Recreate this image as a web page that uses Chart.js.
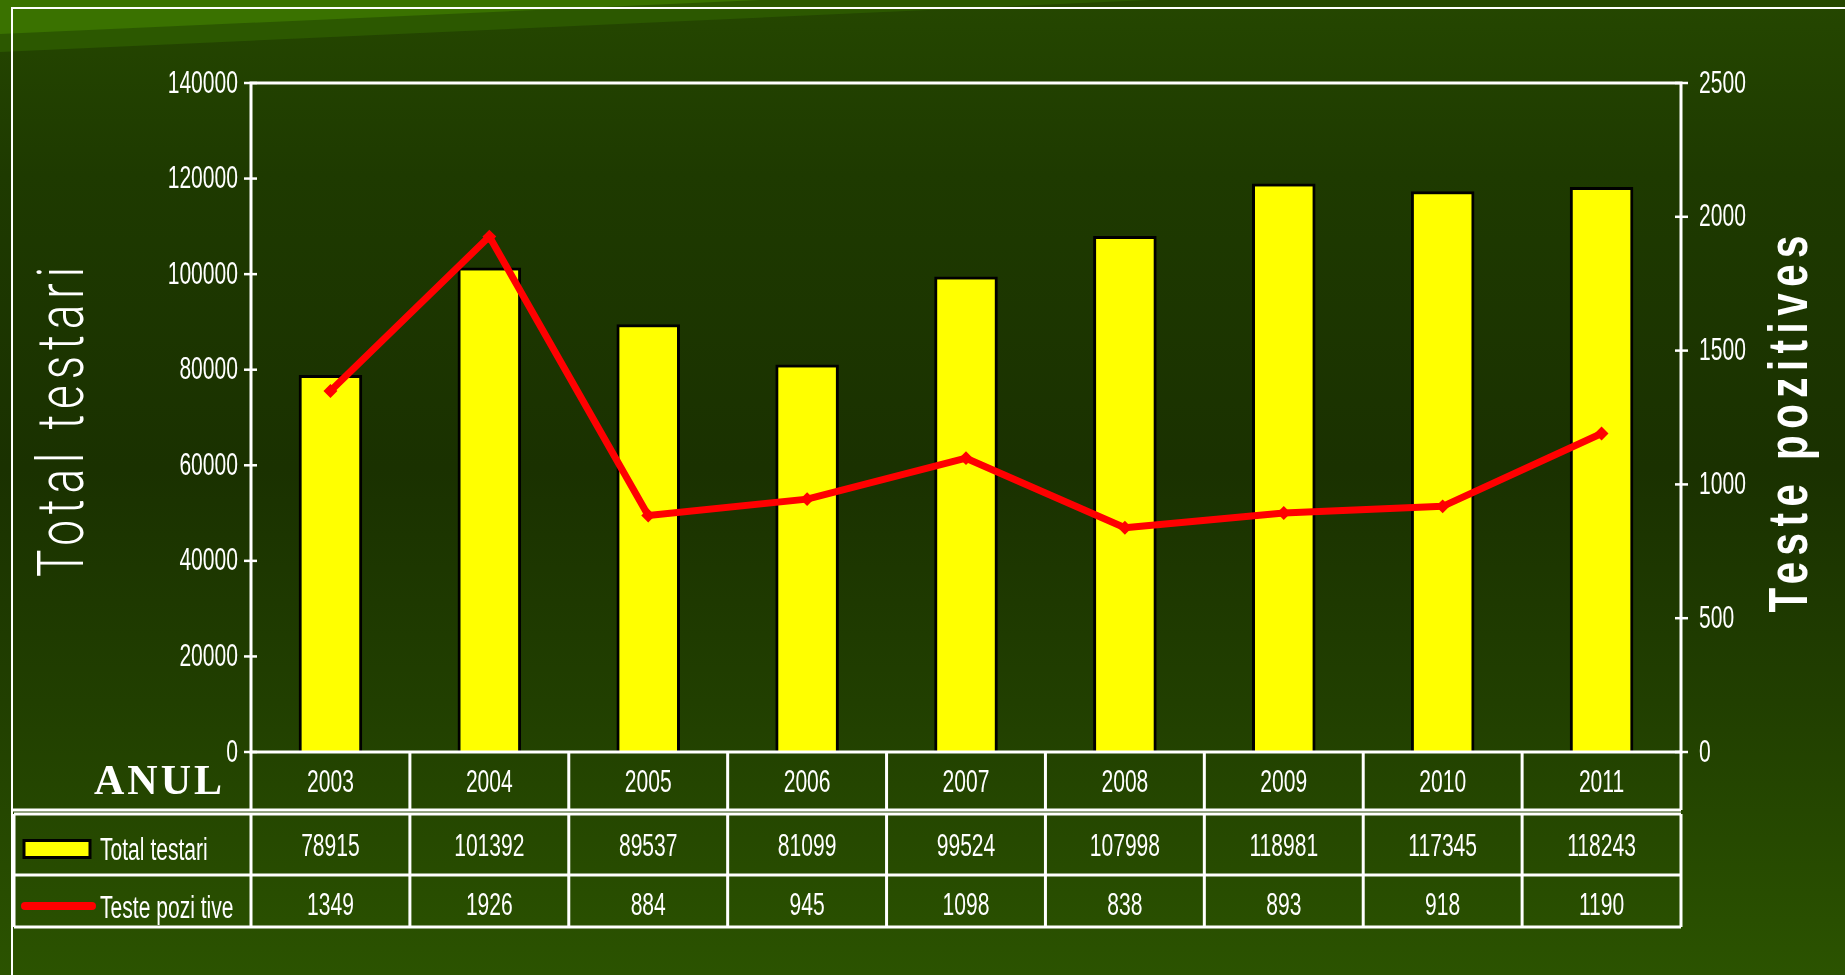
<!DOCTYPE html>
<html>
<head>
<meta charset="utf-8">
<title>Total testari / Teste pozitive</title>
<style>
html, body { margin: 0; padding: 0; width: 1845px; height: 975px; overflow: hidden; }
body {
    position: relative;
    background: linear-gradient(180deg, #254700 0%, #1e3a00 18%, #1a3100 48%, #213f00 72%, #2b5300 100%);
}
.band { position: absolute; left: 0; top: 0; width: 1845px; height: 80px; }
#band1 { background: #2c5800; clip-path: polygon(0 0, 1150px 0, 0 52px); }
#band2 { background: #3a7200; clip-path: polygon(0 0, 760px 0, 0 34px); }
#chart { position: absolute; left: 0; top: 0; }
</style>
<script src="https://cdn.jsdelivr.net/npm/chart.js@4/dist/chart.umd.min.js"></script>
</head>
<body>
<div class="band" id="band1"></div>
<div class="band" id="band2"></div>
<canvas id="chart" width="1845" height="975"></canvas>
<script>
// data
const years = ['2003', '2004', '2005', '2006', '2007', '2008', '2009', '2010', '2011'];
const totalTestari = [78915, 101392, 89537, 81099, 99524, 107998, 118981, 117345, 118243];
const testePozitive = [1349, 1926, 884, 945, 1098, 838, 893, 918, 1190];
const leftMax = 140000, leftStep = 20000;
const rightMax = 2500, rightStep = 500;

const SANS = '"Liberation Sans", Arial, sans-serif';
const NARROW_X = 0.68;   // squeeze so it looks like the narrow office font
const SMALL = '31px ' + SANS;
const WHITE = '#ffffff';

// narrow text: squeeze horizontally around the anchor point
function narrowText(ctx, text, x, y, font, align) {
    ctx.save();
    ctx.font = font;
    ctx.textAlign = align;
    ctx.textBaseline = 'middle';
    ctx.translate(x, y);
    ctx.scale(NARROW_X, 1);
    ctx.fillText(text, 0, 0);
    ctx.restore();
}

// rotated, squeezed and letter spaced title fitted to a given length
function drawTitle(ctx, text, font, squeeze, length, cx, cy) {
    ctx.save();
    ctx.font = font;
    ctx.textAlign = 'center';
    ctx.textBaseline = 'middle';
    ctx.letterSpacing = '0px';
    const w = ctx.measureText(text).width * squeeze;
    const sp = Math.max(0, (length - w) / (text.length - 1)) / squeeze;
    ctx.letterSpacing = sp + 'px';
    ctx.translate(cx, cy);
    ctx.rotate(-Math.PI / 2);
    ctx.scale(squeeze, 1);
    ctx.fillText(text, sp / 2, 0);
    ctx.restore();
}

// draws frame, plot box, ticks, titles and the data table under the chart
const tablePlugin = {
    id: 'dataTable',
    afterDraw(chart) {
        const ctx = chart.ctx;
        const a = chart.chartArea;
        const x = chart.scales.x, y = chart.scales.y, y1 = chart.scales.y1;
        ctx.save();

        // outer white frame
        ctx.strokeStyle = WHITE;
        ctx.lineWidth = 2;
        ctx.beginPath();
        ctx.moveTo(12, 975);
        ctx.lineTo(12, 8);
        ctx.lineTo(1845, 8);
        ctx.stroke();

        // plot box
        ctx.lineWidth = 3;
        ctx.strokeRect(a.left, a.top, a.right - a.left, a.bottom - a.top);

        // tick marks crossing the axes, and their labels
        ctx.lineWidth = 2.5;
        ctx.fillStyle = WHITE;
        y.ticks.forEach(t => {
            const py = y.getPixelForValue(t.value);
            ctx.beginPath(); ctx.moveTo(a.left - 7, py); ctx.lineTo(a.left + 6, py); ctx.stroke();
            narrowText(ctx, String(t.value), a.left - 13, py + 1, SMALL, 'right');
        });
        y1.ticks.forEach(t => {
            const py = y1.getPixelForValue(t.value);
            ctx.beginPath(); ctx.moveTo(a.right - 6, py); ctx.lineTo(a.right + 7, py); ctx.stroke();
            narrowText(ctx, String(t.value), a.right + 18, py + 1, SMALL, 'left');
        });

        // axis titles
        ctx.fillStyle = WHITE;
        drawTitle(ctx, 'Total testari', '300 64px Roboto, ' + SANS, 0.72, 310, 67, 422);
        drawTitle(ctx, 'Teste pozitives', 'bold 56px ' + SANS, 0.72, 377, 1792, 424);

        // table geometry
        const n = years.length;
        const cw = (a.right - a.left) / n;
        const edges = years.map((_, i) => x.getPixelForValue(i) - cw / 2);
        edges.push(x.getPixelForValue(n - 1) + cw / 2);
        const r0 = a.bottom, yb = a.bottom + 58;
        const r1 = a.bottom + 62, r2 = a.bottom + 123, r3 = a.bottom + 175;
        const tLeft = 14;

        ctx.strokeStyle = WHITE;
        ctx.lineWidth = 3;
        edges.forEach(ex => {
            ctx.beginPath(); ctx.moveTo(ex, r0); ctx.lineTo(ex, yb); ctx.stroke();
        });
        ctx.beginPath(); ctx.moveTo(12, yb); ctx.lineTo(a.right, yb); ctx.stroke();
        [r1, r2, r3].forEach(ry => {
            ctx.beginPath(); ctx.moveTo(tLeft, ry); ctx.lineTo(a.right, ry); ctx.stroke();
        });
        [tLeft].concat(edges).forEach(ex => {
            ctx.beginPath(); ctx.moveTo(ex, r1); ctx.lineTo(ex, r3); ctx.stroke();
        });

        // cell texts
        ctx.fillStyle = WHITE;
        const rowYear = (r0 + yb) / 2 + 2, rowTot = (r1 + r2) / 2 + 3, rowPoz = (r2 + r3) / 2 + 5;
        years.forEach((yr, i) => {
            const cx = x.getPixelForValue(i);
            narrowText(ctx, yr, cx, rowYear, SMALL, 'center');
            narrowText(ctx, String(totalTestari[i]), cx, rowTot, SMALL, 'center');
            narrowText(ctx, String(testePozitive[i]), cx, rowPoz, SMALL, 'center');
        });

        // row headers
        ctx.save();
        ctx.textAlign = 'right';
        ctx.textBaseline = 'middle';
        ctx.font = 'bold 42px "Liberation Serif", "DejaVu Serif", serif';
        ctx.letterSpacing = '3px';
        ctx.fillText('ANUL', 225, rowYear);
        ctx.restore();

        narrowText(ctx, 'Total testari', 100, rowTot + 4, SMALL, 'left');
        narrowText(ctx, 'Teste pozi tive', 100, rowPoz + 3, SMALL, 'left');

        // legend keys
        ctx.fillStyle = '#ffff00';
        ctx.strokeStyle = '#000000';
        ctx.lineWidth = 3;
        ctx.fillRect(24, rowTot - 7, 66, 17);
        ctx.strokeRect(24, rowTot - 7, 66, 17);
        ctx.strokeStyle = '#ff0000';
        ctx.lineWidth = 8;
        ctx.lineCap = 'round';
        ctx.beginPath();
        ctx.moveTo(25, rowPoz);
        ctx.lineTo(92, rowPoz);
        ctx.stroke();

        ctx.restore();
    }
};

const ctx = document.getElementById('chart').getContext('2d');
new Chart(ctx, {
    data: {
        labels: years,
        datasets: [
            {
                type: 'line',
                label: 'Teste pozitive',
                data: testePozitive,
                yAxisID: 'y1',
                borderColor: '#ff0000',
                backgroundColor: '#ff0000',
                borderWidth: 7,
                borderJoinStyle: 'round',
                pointStyle: 'rectRot',
                pointRadius: 2,
                tension: 0,
                order: 0
            },
            {
                type: 'bar',
                label: 'Total testari',
                data: totalTestari,
                yAxisID: 'y',
                backgroundColor: '#ffff00',
                borderColor: '#000000',
                borderWidth: 3,
                borderSkipped: 'bottom',
                barPercentage: 0.4,
                categoryPercentage: 1,
                order: 1
            }
        ]
    },
    options: {
        responsive: false,
        animation: false,
        layout: { padding: { top: 83, left: 0, right: 0, bottom: 0 } },
        plugins: { legend: { display: false }, tooltip: { enabled: false } },
        scales: {
            x: {
                ticks: { display: false },
                grid: { display: false },
                border: { display: false },
                afterFit(s) { s.height = 223; }
            },
            y: {
                position: 'left',
                min: 0,
                max: leftMax,
                ticks: { stepSize: leftStep, display: false },
                grid: { display: false },
                border: { display: false },
                afterFit(s) { s.width = 251; }
            },
            y1: {
                position: 'right',
                min: 0,
                max: rightMax,
                ticks: { stepSize: rightStep, display: false },
                grid: { display: false },
                border: { display: false },
                afterFit(s) { s.width = 164; }
            }
        }
    },
    plugins: [tablePlugin]
});
</script>
</body>
</html>
